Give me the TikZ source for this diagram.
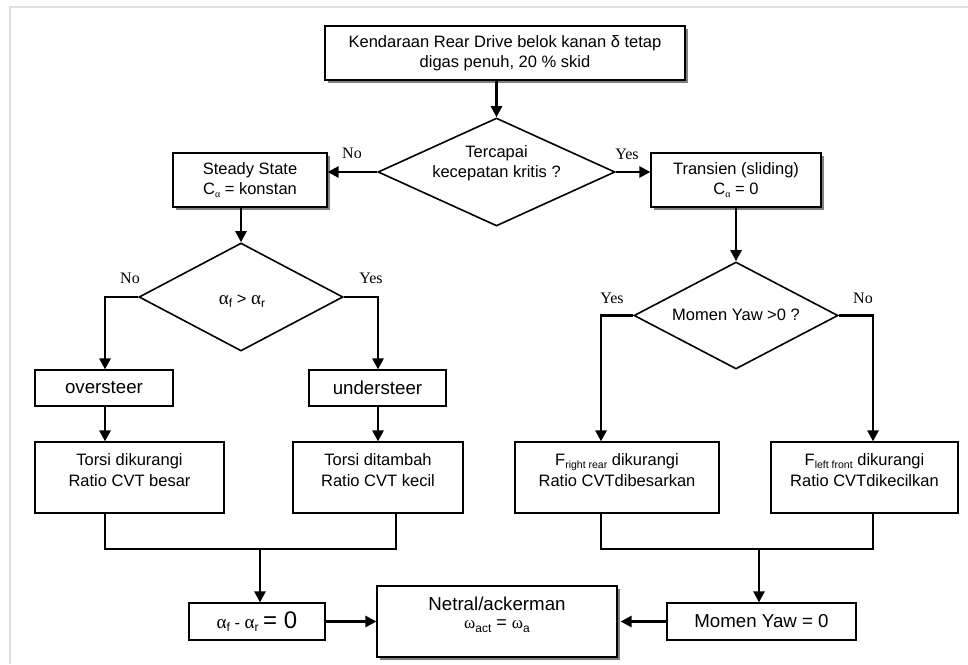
\documentclass[tikz,border=0pt]{standalone}
\usepackage{fontspec}
\setmainfont{Liberation Sans}
\newfontfamily\serifont{Liberation Serif}
\usetikzlibrary{arrows.meta,shapes.geometric,shadows}
\newcommand\subsc[2][10]{\raisebox{-0.35ex}{\fontsize{#1}{#1}\selectfont #2}}
\newcommand\alf[1][17]{{\serifont\fontsize{#1}{#1}\selectfont α}}
\newcommand\omg{{\serifont\fontsize{17}{17}\selectfont ω}}
\begin{document}
\begin{tikzpicture}[x=1pt,y=-1pt,
  box/.style={draw, line width=1.2pt, rectangle, inner sep=0pt, align=center,
    font=\fontsize{16.5}{20.5}\selectfont, fill=white},
  shbox/.style={box, drop shadow={shadow xshift=3pt, shadow yshift=-3pt, fill=black!50, opacity=1}},
  dia/.style={draw, line width=1.6pt, diamond, inner sep=0pt, fill=white},
  txt/.style={align=center, inner sep=0pt, font=\fontsize{16.5}{20.5}\selectfont},
  bigtxt/.style={font=\fontsize{18.7}{22}\selectfont},
  yn/.style={inner sep=0pt, font=\serifont\fontsize{16}{16}\selectfont},
  arr/.style={line width=2.6pt, -{Triangle[length=11pt,width=11pt]}},
  mrg/.style={line width=1.2pt},
  frame/.style={line width=2pt, black!12},
]
\useasboundingbox (0,0) rectangle (968,664);
\draw[frame] (9.5,664) -- (9.5,7) -- (968,7);

% top
\node[shbox, minimum width=360pt, minimum height=54pt] (top) at (505,53)
  {Kendaraan Rear Drive belok kanan δ tetap\\digas penuh, 20 \% skid};
\node[dia, minimum width=237pt, minimum height=108pt] (d1) at (496.5,172) {};
\node[txt] (d1t) at (496.5,163) {Tercapai\\kecepatan kritis ?};
\node[shbox, minimum width=154pt, minimum height=54pt] (st) at (250,180)
  {Steady State\\C\subsc[9]{\alf[10]} = konstan};
\node[shbox, minimum width=170pt, minimum height=54pt] (tr) at (736,180)
  {Transien (sliding)\\C\subsc[9]{\alf[10]} = 0};
\draw[arr] (top.south -| d1.north) -- (d1.north);
\draw[arr] (d1.west) -- (d1.west -| st.east);
\draw[arr] (d1.east) -- (d1.east -| tr.west);
\node[yn] (l1) at (352,153) {No};
\node[yn] (l2) at (627,154) {Yes};

% left branch
\node[dia, minimum width=204pt, minimum height=108pt] (d2) at (241,297) {};
\node[txt] (d2t) at (242,301) {\alf[19]\subsc[12]{f} > \alf[19]\subsc[12]{r}};
\draw[arr] (st.south -| d2.north) -- (d2.north);
\node[yn] (l3) at (130,278) {No};
\node[yn] (l4) at (371,278) {Yes};
\node[box, bigtxt, minimum width=138pt, minimum height=36pt] (ov) at (104,388) {oversteer};
\node[box, bigtxt, minimum width=137pt, minimum height=36pt] (un) at (377.5,388) {understeer};
\coordinate (d2l) at (105,297);
\coordinate (d2r) at (378,297);
\draw[arr] (d2.west) -- (d2l) -- (d2l |- ov.north);
\draw[arr] (d2.east) -- (d2r) -- (d2r |- un.north);
\node[box, minimum width=189pt, minimum height=71pt] (t1) at (129.5,477.5) {};
\node[txt] (t1t) at (129.5,470) {Torsi dikurangi\\Ratio CVT besar};
\node[box, minimum width=170pt, minimum height=71pt] (t2) at (378,477.5) {};
\node[txt] (t2t) at (378,470) {Torsi ditambah\\Ratio CVT kecil};
\draw[arr] (d2l |- ov.south) -- (d2l |- t1.north);
\draw[arr] (d2r |- un.south) -- (d2r |- t2.north);
\coordinate (m1) at (260,549);
\coordinate (m1r) at (396,549);
\draw[mrg] (d2l |- t1.south) -- (d2l |- m1) -- (m1r) -- (m1r |- t2.south);

% bottom
\node[box, minimum width=136pt, minimum height=37pt] (al) at (257,621.5)
  {\alf[19]\subsc[12]{f} - \alf[19]\subsc[12]{r} {\fontsize{24}{24}\selectfont = 0}};
\draw[arr] (m1) -- (m1 |- al.north);
\node[shbox, minimum width=240pt, minimum height=71pt] (ne) at (497,621.5) {};
\node[txt, bigtxt] (ne1) at (497,604) {Netral/ackerman};
\node[txt, font=\fontsize{18}{18}\selectfont] (ne2) at (497,626) {\omg\subsc[12]{act} = \omg\subsc[12]{a}};
\node[box, bigtxt, minimum width=189pt, minimum height=37pt] (m0) at (761.5,621.5) {Momen Yaw = 0};
\draw[arr] (al.east) -- (ne.west);
\draw[arr] (m0.west) -- ([xshift=3pt]ne.east);

% right branch
\node[dia, minimum width=204pt, minimum height=107pt] (d3) at (736,315.5) {};
\node[txt] (d3t) at (736,315) {Momen Yaw >0 ?};
\draw[arr] (tr.south) -- (d3.north);
\node[yn] (l5) at (612,298) {Yes};
\node[yn] (l6) at (863,298) {No};
\coordinate (d3l) at (601,315.5);
\coordinate (d3r) at (873,315.5);
\node[box, minimum width=204pt, minimum height=71pt] (fr) at (617,477.5) {};
\node[txt] (frt) at (617,470) {F\subsc[10.5]{right rear} dikurangi\\Ratio CVTdibesarkan};
\node[box, minimum width=187pt, minimum height=71pt] (fl) at (864.5,477.5) {};
\node[txt] (flt) at (864.5,470) {F\subsc[10.5]{left front} dikurangi\\Ratio CVTdikecilkan};
\draw[arr] (d3.west) -- (d3l) -- (d3l |- fr.north);
\draw[arr] (d3.east) -- (d3r) -- (d3r |- fl.north);
\coordinate (m2) at (759,549);
\draw[mrg] (d3l |- fr.south) -- (d3l |- m2) -- (d3r |- m2) -- (d3r |- fl.south);
\draw[arr] (m2) -- (m2 |- m0.north);
\end{tikzpicture}
\end{document}
